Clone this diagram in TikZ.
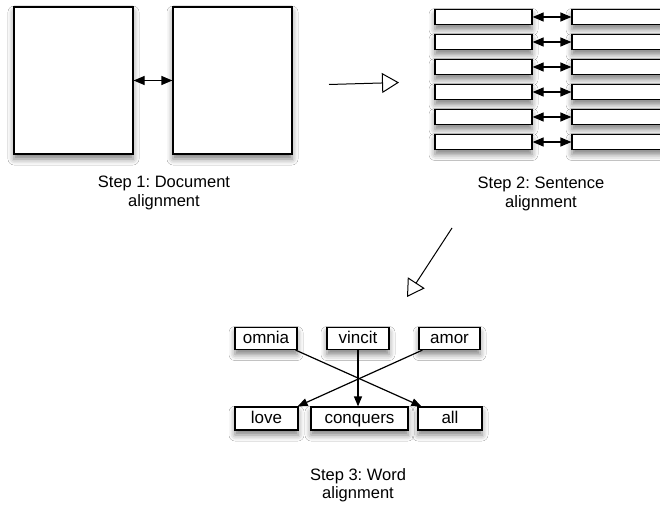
\documentclass[tikz,border=0pt]{standalone}
\usepackage{fontspec}
\setmainfont{Liberation Sans}
\usetikzlibrary{arrows.meta,calc,shadows.blur}
\frenchspacing
\tikzset{
  shad/.style={blur shadow={shadow xshift=0pt, shadow yshift=-5pt, shadow blur radius=6pt, shadow opacity=50}},
  docbox/.style={draw, line width=1.2pt, fill=white, minimum width=119pt, minimum height=147pt, inner sep=0pt, shad},
  sentbox/.style={draw, line width=1.2pt, fill=white, minimum width=97pt, minimum height=15pt, inner sep=0pt, shad},
  wordbox/.style={draw, line width=1.2pt, fill=white, minimum height=22pt, inner sep=0pt, text height=12pt, text depth=3pt, shad, font=\fontsize{17}{19}\selectfont},
  lbl/.style={align=center, font=\fontsize{16.5}{18.5}\selectfont},
  dbl/.style={line width=1.2pt, {Triangle[length=11pt,width=9pt]}-{Triangle[length=11pt,width=9pt]}},
  wordarr/.style={line width=1.2pt, -{Triangle[length=10pt,width=8pt]}},
  bigarr/.style={line width=1pt, -{Triangle[open, length=17pt, width=20pt, fill=white]}},
}
\begin{document}
\begin{tikzpicture}[x=1pt, y=-1pt]
\clip (0,0) rectangle (660,505);
\fill[white] (0,0) rectangle (660,505);
% Step 1
\node[docbox] (docA) at (73.5,80.5) {};
\node[docbox] (docB) at (232.5,80.5) {};
\draw[dbl] (docA.east) -- (docB.west);
\node[lbl] (s1) at (164,193) {Step 1: Document\\alignment};
% Step 2
\foreach \i/\y in {1/17,2/42,3/67,4/92,5/117,6/142}{
  \node[sentbox] (L\i) at (483.5,\y) {};
  \node[sentbox, minimum width=110pt] (R\i) at (627,\y) {};
  \draw[dbl] (L\i.east) -- (R\i.west);
}
\node[lbl] (s2) at (541,194) {Step 2: Sentence\\alignment};
% big arrows
\coordinate (h1) at (329,84.5);
\coordinate (h2) at (399,82.5);
\draw[bigarr] (h1) -- (h2);
\coordinate (d1) at (452,228);
\coordinate (d2) at (407,297);
\draw[bigarr] (d1) -- (d2);
% Step 3
\node[wordbox, minimum width=62pt] (omnia) at (266,338.5) {omnia};
\node[wordbox, minimum width=62pt] (vincit) at (358,338.5) {vincit};
\node[wordbox, minimum width=61pt] (amor) at (449.5,338.5) {amor};
\node[wordbox, minimum width=63pt, minimum height=23pt] (love) at (266.5,418.5) {love};
\node[wordbox, minimum width=97pt, minimum height=23pt] (conq) at (359.5,418.5) {conquers};
\node[wordbox, minimum width=64pt, minimum height=23pt] (all) at (450,418.5) {all};
\draw[wordarr] ($(omnia.south east)+(-2,0)$) -- ($(all.north west)+(4,0)$);
\draw[wordarr] ($(amor.south west)+(4,0)$) -- ($(love.north east)+(-1,0)$);
\draw[wordarr] (vincit.south) -- (vincit.south |- conq.north);
\node[lbl] (s3) at (358,485) {Step 3: Word\\alignment};
\end{tikzpicture}
\end{document}
